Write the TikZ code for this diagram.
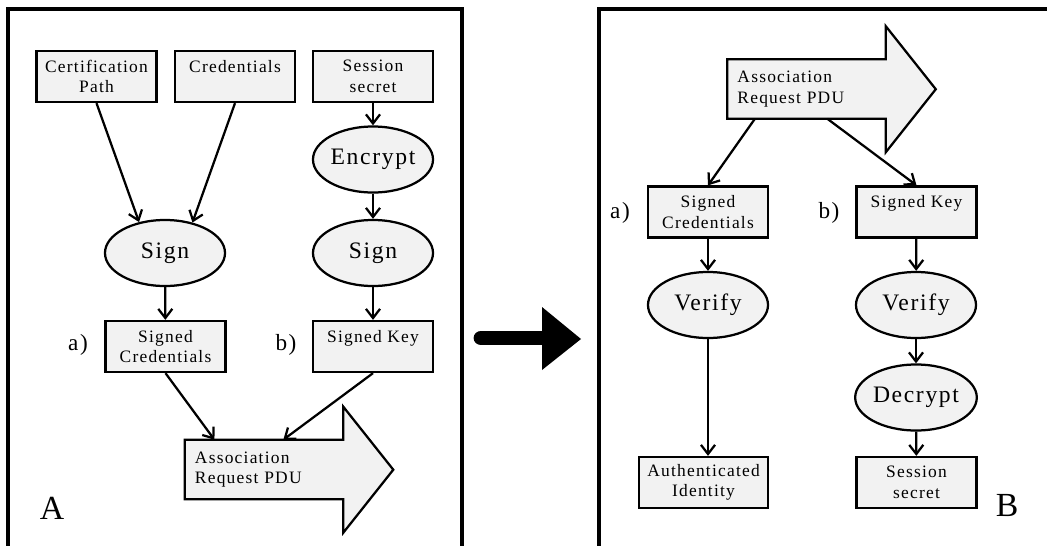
\documentclass[tikz,border=0pt]{standalone}
\usepackage{fontspec}
\setmainfont{Liberation Serif}[LetterSpace=7]
\usetikzlibrary{shapes.geometric}
\usetikzlibrary{arrows.meta}
\usetikzlibrary{backgrounds}
\definecolor{boxgray}{gray}{0.95}

\begin{document}
\begin{tikzpicture}[x=0.025cm,y=-0.025cm,>={Straight Barb[length=6.5pt,width=10pt]}]
\tikzstyle{block} = [rectangle, draw=black, line width=1.6pt, fill=boxgray, minimum width=3cm, minimum height=1.275cm, inner sep=1pt, align=center, font=\fontsize{12.4}{14.5}\selectfont]
\tikzstyle{process} = [ellipse, draw=black, line width=1.6pt, fill=boxgray, minimum width=3cm, minimum height=1.65cm, inner sep=0pt, font=\fontsize{16.8}{19}\selectfont]
\tikzstyle{pdubody} = [rectangle, minimum width=3.95cm, minimum height=1.475cm, inner sep=0pt, text width=3.45cm, align=left, font=\fontsize{12.4}{14.5}\selectfont]
\tikzstyle{pduline} = [draw=black, line width=1.6pt, fill=boxgray, line join=miter]
\tikzstyle{flow} = [draw=black, line width=1.6pt, ->]
\tikzstyle{frame} = [draw=black, line width=2.4pt]
\tikzstyle{tag} = [font=\fontsize{16.5}{19}\selectfont]
\tikzstyle{panel} = [font=\fontsize{24}{28}\selectfont]

\useasboundingbox (0,0) rectangle (1047,546);

% the two panels
\draw[frame] (8,546) -- (8,9) -- (462,9) -- (462,546);
\draw[frame] (1047,9) -- (599,9) -- (599,546);

% --- A: building the request ---
\node[block] (cert) at (96.5,76.5) {Certification\\Path};
\node[block] (cred) at (235,76.5) {Credentials\\\mbox{}};
\node[block] (sess) at (373,76.5) {Session\\secret};
\node[process] (encrypt) at (373,159.5) {Encrypt};
\node[process] (sign1) at (165,253) {Sign};
\node[process] (sign2) at (373,253) {Sign};
\node[block] (scred) at (165.5,346.5) {Signed\\Credentials};
\node[block] (skey) at (373,346.5) {Signed Key\\\mbox{}};
\node[tag] (tagA) at (78,345) {a)};
\node[tag] (tagB) at (286,345) {b)};
\node[pdubody] (pdu) at (264,469.5) {Association\\Request PDU};
\node[panel] (nameA) at (52,508) {A};

\begin{scope}[on background layer]
\filldraw[pduline] (pdu.north west) -- (pdu.north east) -- ++(0,-33) -- ++(50,63)
  -- ++(-50,63) -- (pdu.south east) -- (pdu.south west) -- cycle;
\end{scope}

\draw[flow] (cert.south) -- (sign1.130);
\draw[flow] (cred.south) -- (sign1.48);
\draw[flow] (sess) -- (encrypt);
\draw[flow] (encrypt) -- (sign2);
\draw[flow] (sign1) -- (scred);
\draw[flow] (sign2) -- (skey);
\draw[flow] (scred.south) -- (pdu.149);
\draw[flow] (skey.south) -- (pdu.57);

% big arrow in between
\coordinate (gotail) at (481,338);
\coordinate (gohead) at (545,338);
\draw[line width=10.5pt, line cap=round] (gotail) -- (gohead);
\fill (542,307) -- (581,339) -- (542,370) -- cycle;

% --- B: checking the request ---
\node[pdubody] (pdu2) at (806.5,89) {Association\\Request PDU};
\node[block] (vcred) at (708,212) {Signed\\Credentials};
\node[block] (vkey) at (916.5,212) {Signed Key\\\mbox{}};
\node[tag] (tagA2) at (620,213) {a)};
\node[tag] (tagB2) at (829,213) {b)};
\node[process] (verify1) at (708,305) {Verify};
\node[process] (verify2) at (916,305) {Verify};
\node[process] (decrypt) at (916,397.5) {Decrypt};
\node[block, minimum width=3.225cm] (ident) at (703.5,482.5) {Authenticated\\Identity};
\node[block] (secret) at (916.5,482.5) {Session\\secret};
\node[panel] (nameB) at (1007,505) {B};

\begin{scope}[on background layer]
\filldraw[pduline] (pdu2.north west) -- (pdu2.north east) -- ++(0,-33) -- ++(50,63)
  -- ++(-50,63) -- (pdu2.south east) -- (pdu2.south west) -- cycle;
\end{scope}

\draw[flow] (pdu2.210) -- (vcred.north);
\draw[flow] (pdu2.305) -- (vkey.north);
\draw[flow] (vcred) -- (verify1);
\draw[flow] (verify1.south) -- (verify1.south |- ident.north);
\draw[flow] (vkey) -- (verify2);
\draw[flow] (verify2) -- (decrypt);
\draw[flow] (decrypt) -- (secret);
\end{tikzpicture}
\end{document}
